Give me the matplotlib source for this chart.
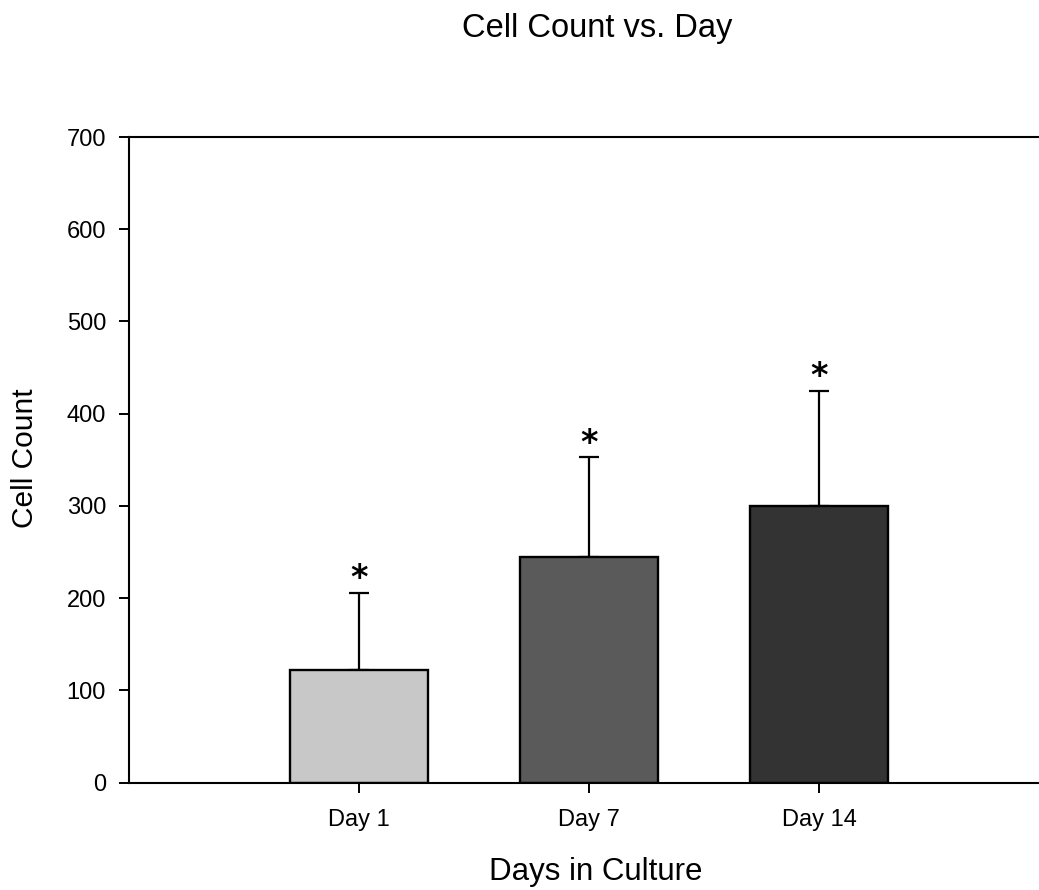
import matplotlib
matplotlib.use("Agg")
import matplotlib.pyplot as plt

plt.rcParams['font.family'] = ['Liberation Sans', 'DejaVu Sans']

categories = ["Day 1", "Day 7", "Day 14"]
cell_counts = [122, 245, 300]
errors_up = [84, 108, 125]
bar_colors = ["#c8c8c8", "#5a5a5a", "#333333"]
y_ticks = [0, 100, 200, 300, 400, 500, 600, 700]

W, H = 1039, 890
fig = plt.figure(figsize=(W / 100, H / 100), dpi=100)
left = 129 / W
bottom = (H - 782.5) / H
height = (782.5 - 137) / H
width = 920 / W
ax = fig.add_axes([left, bottom, width, height])

x = [1, 2, 3]
ax.bar(x, cell_counts, width=0.6, color=bar_colors, edgecolor="black",
       linewidth=1.7, zorder=2)
ax.errorbar(x, cell_counts, yerr=[[0] * 3, errors_up], fmt="none",
            ecolor="black", elinewidth=1.6, capsize=7.5, capthick=1.6, zorder=1)
for xi, v, e in zip(x, cell_counts, errors_up):
    ax.annotate("*", xy=(xi, v + e), xytext=(0, 10), textcoords="offset points",
                ha="center", va="center", fontsize=24, fontweight="bold",
                family=["DejaVu Sans"])

ax.set_xlim(0, 4)
ax.set_ylim(0, 700)
ax.set_xticks(x)
ax.set_xticklabels(categories)
ax.set_yticks(y_ticks)
ax.tick_params(axis="both", labelsize=17, length=7, width=1.4, direction="out")
ax.tick_params(axis="y", pad=9.5)
ax.tick_params(axis="x", pad=12)
ax.spines["right"].set_visible(False)
for s in ["left", "top", "bottom"]:
    ax.spines[s].set_linewidth(1.5)

fig.text(597 / W, 1 - 28 / H, "Cell Count vs. Day", ha="center", va="center",
         fontsize=23.5)
fig.text(595.5 / W, 1 - 872 / H, "Days in Culture", ha="center", va="center",
         fontsize=22.5)
fig.text(25 / W, 1 - 458 / H, "Cell Count", ha="center", va="center",
         rotation=90, fontsize=21.5)

fig.savefig("out.png", dpi=100)
